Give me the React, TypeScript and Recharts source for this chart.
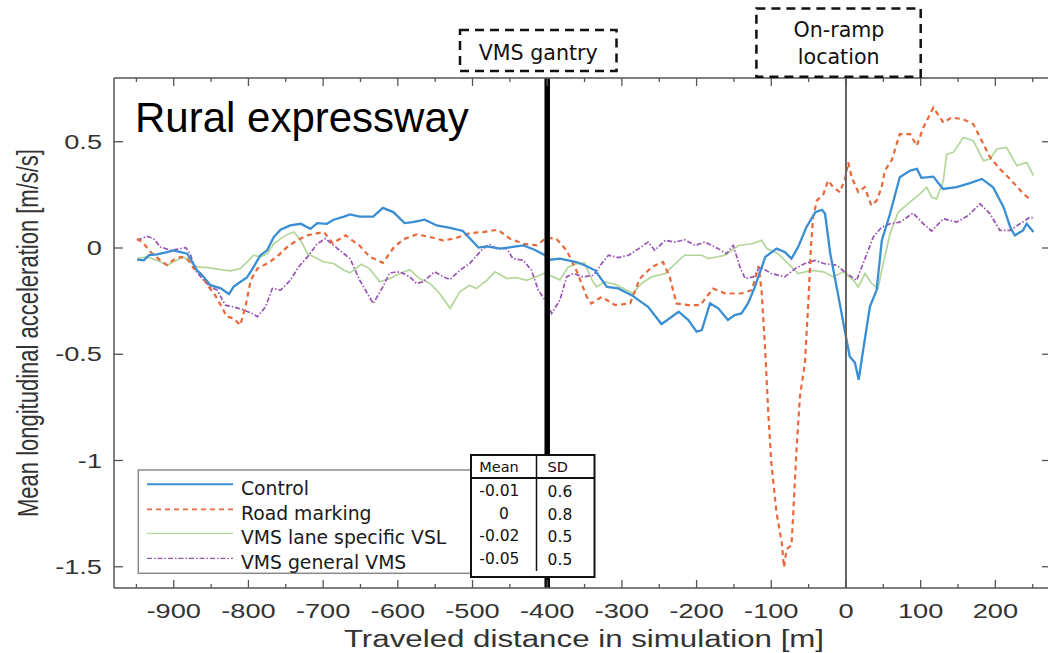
import React from "react";
import { LineChart, Line, XAxis, YAxis, ReferenceLine } from "recharts";

type Pt = [number, number];

// axis ticks (every 50 m, labels on the hundreds)
const xTicks = [-950, -900, -850, -800, -750, -700, -650, -600, -550, -500, -450, -400, -350, -300, -250, -200, -150, -100, -50, 0, 50, 100, 150, 200, 250];
const yTicks = [-1.5, -1, -0.5, 0, 0.5];

// [distance m, mean acceleration m/s/s]
const control: Pt[] = [
  [-949, -0.055], [-940, -0.058], [-933, -0.034], [-922, -0.03], [-909, -0.019], [-900, -0.011], [-891, -0.019], [-882, -0.027],
  [-875, -0.066], [-869, -0.105], [-860, -0.136], [-851, -0.175], [-837, -0.19], [-826, -0.217], [-820, -0.183], [-811, -0.16],
  [-802, -0.139], [-793, -0.089], [-784, -0.034], [-775, -0.011], [-766, 0.052], [-757, 0.086], [-744, 0.106], [-730, 0.114],
  [-717, 0.09], [-708, 0.117], [-695, 0.114], [-686, 0.133], [-672, 0.148], [-664, 0.158], [-651, 0.148], [-633, 0.148],
  [-620, 0.189], [-606, 0.169], [-591, 0.117], [-580, 0.122], [-564, 0.133], [-548, 0.106], [-530, 0.095], [-513, 0.08],
  [-492, 0.002], [-481, 0.008], [-463, -0.003], [-446, 0.005], [-432, 0.012], [-417, -0.008], [-403, -0.034], [-396, -0.055],
  [-383, -0.05], [-361, -0.066], [-350, -0.081], [-336, -0.105], [-320, -0.183], [-305, -0.19], [-287, -0.222], [-265, -0.277],
  [-247, -0.358], [-224, -0.3], [-211, -0.339], [-200, -0.394], [-193, -0.386], [-182, -0.26], [-171, -0.284], [-158, -0.339],
  [-149, -0.316], [-140, -0.308], [-131, -0.26], [-122, -0.183], [-108, -0.042], [-93, -0.003], [-82, -0.019], [-73, -0.05],
  [-64, 0.005], [-53, 0.098], [-41, 0.169], [-32, 0.18], [-28, 0.161], [-21, -0.027], [-10, -0.23], [-1, -0.4], [5, -0.51],
  [12, -0.54], [17, -0.62], [23, -0.48], [32, -0.277], [41, -0.198], [48, 0.036], [59, 0.161], [72, 0.333], [86, 0.364],
  [95, 0.372], [101, 0.33], [117, 0.336], [130, 0.278], [148, 0.286], [166, 0.305], [182, 0.325], [197, 0.286], [211, 0.192],
  [220, 0.098], [226, 0.059], [237, 0.083], [242, 0.114], [251, 0.075],
];

const roadMarking: Pt[] = [
  [-949, 0.044], [-940, 0.02], [-931, -0.019], [-918, -0.058], [-909, -0.081], [-900, -0.055], [-891, -0.042], [-882, -0.05],
  [-873, -0.097], [-864, -0.12], [-855, -0.175], [-846, -0.214], [-837, -0.269], [-829, -0.323], [-820, -0.331], [-811, -0.363],
  [-804, -0.277], [-797, -0.152], [-788, -0.097], [-775, -0.073], [-762, -0.042], [-748, 0.005], [-735, 0.036], [-721, 0.06],
  [-699, 0.075], [-687, 0.022], [-670, 0.06], [-651, 0.01], [-638, -0.04], [-620, -0.07], [-606, 0.0], [-593, 0.04],
  [-575, 0.064], [-557, 0.052], [-539, 0.035], [-521, 0.048], [-504, 0.07], [-486, 0.075], [-466, 0.086], [-450, 0.044],
  [-432, 0.02], [-414, 0.013], [-401, 0.048], [-388, 0.044], [-374, -0.011], [-361, -0.105], [-347, -0.23], [-341, -0.261],
  [-327, -0.23], [-309, -0.269], [-289, -0.261], [-276, -0.144], [-260, -0.089], [-245, -0.066], [-236, -0.136], [-227, -0.261],
  [-211, -0.269], [-195, -0.269], [-178, -0.191], [-162, -0.214], [-140, -0.214], [-126, -0.198], [-117, -0.085], [-113, -0.2],
  [-108.5, -0.46], [-104, -0.777], [-100, -1.01], [-93, -1.245], [-86, -1.386], [-83, -1.503], [-79.5, -1.417], [-73, -1.4],
  [-70.5, -1.245], [-66, -0.933], [-61.6, -0.698], [-55, -0.542], [-50, -0.23], [-47, 0.0], [-44, 0.145], [-39, 0.223],
  [-30, 0.255], [-24, 0.317], [-17, 0.286], [-8, 0.263], [-1.3, 0.325], [3, 0.403], [7.6, 0.333], [16.5, 0.263], [25, 0.286],
  [34, 0.2], [41, 0.223], [47.8, 0.286], [52, 0.364], [61, 0.411], [72, 0.536], [86, 0.536], [94.7, 0.481], [103.6, 0.567],
  [117, 0.661], [130.4, 0.59], [141.5, 0.614], [157, 0.606], [170.5, 0.583], [181.7, 0.505], [192.9, 0.427], [206, 0.372],
  [219.7, 0.325], [237.5, 0.255], [248.7, 0.223],
];

const vmsLaneVsl: Pt[] = [
  [-949, -0.05], [-936, -0.042], [-922, -0.058], [-909, -0.081], [-896, -0.058], [-887, -0.042], [-878, -0.066], [-869, -0.089],
  [-855, -0.092], [-837, -0.102], [-824, -0.108], [-811, -0.097], [-802, -0.066], [-793, -0.034], [-784, -0.042], [-775, -0.027],
  [-766, 0.02], [-757, 0.044], [-748, 0.064], [-739, 0.075], [-730, 0.036], [-721, -0.027], [-712, -0.042], [-699, -0.066],
  [-686, -0.073], [-672, -0.105], [-664, -0.117], [-649, -0.077], [-638, -0.097], [-624, -0.159], [-611, -0.144], [-597, -0.12],
  [-584, -0.102], [-571, -0.144], [-557, -0.167], [-544, -0.214], [-530, -0.284], [-517, -0.206], [-504, -0.175], [-495, -0.191],
  [-481, -0.152], [-470, -0.112], [-454, -0.144], [-441, -0.139], [-428, -0.152], [-417, -0.139], [-403, -0.117], [-396, -0.13],
  [-383, -0.15], [-372, -0.09], [-362, -0.075], [-350, -0.07], [-340, -0.15], [-334, -0.183], [-323, -0.159], [-310, -0.17],
  [-290, -0.205], [-285, -0.214], [-274, -0.167], [-260, -0.136], [-242, -0.12], [-224, -0.058], [-216, -0.034], [-193, -0.034],
  [-184, -0.05], [-162, -0.034], [-144, 0.012], [-126, 0.02], [-113, 0.036], [-106, -0.003], [-91, -0.027], [-73, -0.089],
  [-64, -0.12], [-46, -0.105], [-30, -0.112], [-17, -0.136], [-3.6, -0.112], [9.8, -0.152], [16.5, -0.183], [25.5, -0.12],
  [34.4, -0.167], [43, -0.19], [47.8, -0.105], [59, 0.067], [70, 0.169], [85.7, 0.216], [99, 0.255], [108, 0.286],
  [114.7, 0.239], [121.4, 0.231], [130.4, 0.317], [134.8, 0.442], [143.8, 0.45], [157, 0.52], [170.5, 0.505], [184, 0.411],
  [192.9, 0.419], [201.8, 0.466], [215, 0.473], [228.6, 0.387], [242, 0.403], [251, 0.341],
];

const vmsGeneral: Pt[] = [
  [-949, 0.036], [-936, 0.055], [-927, 0.044], [-918, 0.005], [-904, -0.011], [-891, -0.003], [-884, 0.002], [-878, -0.027],
  [-871, -0.105], [-860, -0.152], [-851, -0.183], [-842, -0.198], [-831, -0.269], [-820, -0.277], [-806, -0.292], [-795, -0.308],
  [-788, -0.323], [-777, -0.277], [-768, -0.19], [-757, -0.198], [-744, -0.152], [-733, -0.089], [-721, -0.042], [-708, 0.02],
  [-697, 0.044], [-686, 0.012], [-672, -0.027], [-664, -0.05], [-651, -0.152], [-633, -0.261], [-620, -0.183], [-611, -0.117],
  [-597, -0.112], [-584, -0.136], [-575, -0.167], [-566, -0.159], [-551, -0.112], [-539, -0.136], [-530, -0.148], [-517, -0.105],
  [-504, -0.073], [-486, -0.003], [-477, 0.017], [-468, -0.003], [-454, -0.003], [-446, -0.05], [-432, -0.058], [-421, -0.105],
  [-412, -0.198], [-403, -0.245], [-394, -0.308], [-383, -0.245], [-374, -0.136], [-365, -0.12], [-352, -0.136], [-338, -0.128],
  [-327, -0.073], [-318, -0.034], [-305, -0.045], [-291, -0.034], [-274, 0.005], [-265, 0.028], [-256, -0.011], [-242, 0.036],
  [-229, 0.028], [-216, 0.039], [-202, 0.012], [-189, 0.028], [-171, -0.003], [-160, -0.027], [-151, 0.012], [-142, -0.089],
  [-135, -0.144], [-124, -0.136], [-115, -0.089], [-100, -0.12], [-82, -0.136], [-68, -0.097], [-55, -0.073], [-41, -0.058],
  [-30, -0.073], [-12.5, -0.081], [0.9, -0.12], [14.3, -0.152], [23, -0.073], [36.6, 0.052], [47.8, 0.098], [59, 0.114],
  [72.3, 0.122], [90, 0.164], [103.6, 0.114], [114.7, 0.08], [130.4, 0.138], [148, 0.122], [163.8, 0.153], [179.5, 0.208],
  [192.9, 0.161], [206, 0.083], [219.7, 0.083], [233, 0.114], [246.4, 0.145], [251, 0.142],
];

const seriesNames = ["Control", "Road marking", "VMS lane specific VSL", "VMS general VMS"];
const seriesMean = ["-0.01", "0", "-0.02", "-0.05"];
const seriesSD = ["0.6", "0.8", "0.5", "0.5"];

const BLUE = "#3a8ed3";
const ORANGE = "#e8683a";
const GREEN = "#b3d69a";
const PURPLE = "#9a52b5";
const AXIS = "#555";
const ARIAL = "'Liberation Sans', Arial, sans-serif";
const DEJAVU = "'DejaVu Sans', Verdana, sans-serif";

const styles = [
  { color: BLUE, width: 2.3, dash: undefined as string | undefined },
  { color: ORANGE, width: 2.2, dash: "5 4" },
  { color: GREEN, width: 1.7, dash: undefined },
  { color: PURPLE, width: 1.7, dash: "5 2 1.5 2" },
];

const toRows = (pts: Pt[]) => pts.map(([x, y]) => ({ x, y }));

function BottomTick(props: any) {
  const { x, y, payload } = props;
  const v = payload.value;
  const major = v % 100 === 0;
  return (
    <g>
      <line x1={x} x2={x} y1={y} y2={y - (major ? 8 : 4)} stroke={AXIS} strokeWidth={1.3} />
      {major && (
        <text transform={`translate(${x},${y + 30}) scale(1.36,1)`} textAnchor="middle" fontSize={20} fill="#333" fontFamily={ARIAL}>
          {v}
        </text>
      )}
    </g>
  );
}

function TopTick(props: any) {
  const { x, payload } = props;
  const major = payload.value % 100 === 0;
  return <line x1={x} x2={x} y1={78} y2={78 + (major ? 8 : 4)} stroke={AXIS} strokeWidth={1.3} />;
}

function LeftTick(props: any) {
  const { x, y, payload } = props;
  return (
    <g>
      <line x1={x} x2={x + 9} y1={y} y2={y} stroke={AXIS} strokeWidth={1.3} />
      <text transform={`translate(${x - 12},${y + 7}) scale(1.36,1)`} textAnchor="end" fontSize={20} fill="#333" fontFamily={ARIAL}>
        {payload.value}
      </text>
    </g>
  );
}

function RightTick(props: any) {
  const { y } = props;
  return <line x1={1051} x2={1042} y1={y} y2={y} stroke={AXIS} strokeWidth={1.3} />;
}

function DashedBox({ x, y, w, h }: { x: number; y: number; w: number; h: number }) {
  return <rect x={x} y={y} width={w} height={h} fill="white" stroke="#111" strokeWidth={2.5} strokeDasharray="9 6" />;
}

export default function App() {
  const data = [control, roadMarking, vmsLaneVsl, vmsGeneral];
  const drawOrder = [2, 3, 1, 0];
  const legendY = [484.3, 509.3, 533.3, 558.3];
  const rowBase = [496, 519, 541, 563.5];

  return (
    <div style={{ position: "absolute", left: 0, top: 0, width: 1048, height: 653, overflow: "hidden", background: "white" }}>
      <LineChart width={1052} height={653} margin={{ top: 68, right: 0, bottom: 5, left: 54 }}>
        <XAxis
          xAxisId={0}
          dataKey="x"
          type="number"
          domain={[-980, 274.5]}
          allowDataOverflow
          ticks={xTicks}
          interval={0}
          height={60}
          tickSize={0}
          tickMargin={0}
          tickLine={false}
          axisLine={{ stroke: AXIS, strokeWidth: 1.5 }}
          tick={(p: any) => <BottomTick {...p} />}
        />
        <XAxis
          xAxisId="top"
          orientation="top"
          dataKey="x"
          type="number"
          domain={[-980, 274.5]}
          allowDataOverflow
          ticks={xTicks}
          interval={0}
          height={10}
          tickSize={0}
          tickMargin={0}
          tickLine={false}
          axisLine={{ stroke: AXIS, strokeWidth: 1.5 }}
          tick={(p: any) => <TopTick {...p} />}
        />
        <YAxis
          yAxisId={0}
          type="number"
          domain={[-1.6, 0.8]}
          allowDataOverflow
          ticks={yTicks}
          interval={0}
          width={60}
          tickSize={0}
          tickMargin={0}
          tickLine={false}
          axisLine={{ stroke: AXIS, strokeWidth: 1.5 }}
          tick={(p: any) => <LeftTick {...p} />}
        />
        <YAxis
          yAxisId="r"
          orientation="right"
          type="number"
          domain={[-1.6, 0.8]}
          allowDataOverflow
          ticks={yTicks}
          interval={0}
          width={1}
          tickSize={0}
          tickMargin={0}
          tickLine={false}
          axisLine={false}
          tick={(p: any) => <RightTick {...p} />}
        />
        {drawOrder.map((i) => (
          <Line
            key={seriesNames[i]}
            data={toRows(data[i])}
            dataKey="y"
            name={seriesNames[i]}
            type="linear"
            stroke={styles[i].color}
            strokeWidth={styles[i].width}
            strokeDasharray={styles[i].dash}
            dot={false}
            activeDot={false}
            isAnimationActive={false}
          />
        ))}
        <ReferenceLine x={-400} stroke="#000" strokeWidth={5.5} />
        <ReferenceLine x={0} stroke="#666" strokeWidth={2} />
      </LineChart>

      <svg width={1048} height={653} style={{ position: "absolute", left: 0, top: 0, pointerEvents: "none" }}>
        <text x={135} y={131.7} fontSize={42} fill="#000" fontFamily={ARIAL}>Rural expressway</text>

        <text transform="translate(38,333) scale(1.36,1) rotate(-90)" textAnchor="middle" fontSize={22} fill="#333" fontFamily={ARIAL}>
          Mean longitudinal acceleration [m/s/s]
        </text>
        <text transform="translate(584,646.5) scale(1.36,1)" textAnchor="middle" fontSize={23} fill="#333" fontFamily={ARIAL}>
          Traveled distance in simulation [m]
        </text>

        <DashedBox x={460} y={30} w={156.5} h={41} />
        <text x={538.2} y={60} textAnchor="middle" fontSize={20.6} fill="#111" fontFamily={DEJAVU}>VMS gantry</text>
        <DashedBox x={756.4} y={8.4} w={164.3} h={68.4} />
        <text x={839} y={36.8} textAnchor="middle" fontSize={20.6} fill="#111" fontFamily={DEJAVU}>On-ramp</text>
        <text x={838.7} y={64} textAnchor="middle" fontSize={20.6} fill="#111" fontFamily={DEJAVU}>location</text>

        {/* legend */}
        <rect x={138.3} y={470} width={340} height={103.3} fill="white" stroke="#8a8a8a" strokeWidth={1.5} />
        {seriesNames.map((name, i) => (
          <g key={name}>
            <line x1={147} x2={233} y1={legendY[i]} y2={legendY[i]} stroke={styles[i].color} strokeWidth={styles[i].width - 0.4} strokeDasharray={styles[i].dash} />
            <text x={241} y={legendY[i] + 10.2} fontSize={18.8} fill="#1a1a1a" fontFamily={DEJAVU}>{name}</text>
          </g>
        ))}

        {/* mean / sd table */}
        <rect x={471} y={455} width={123.5} height={122} fill="white" stroke="#111" strokeWidth={2} />
        <line x1={471} x2={594.5} y1={478} y2={478} stroke="#111" strokeWidth={2} />
        <line x1={536.5} x2={536.5} y1={455} y2={571} stroke="#111" strokeWidth={1.5} />
        <text x={479.3} y={471.7} fontSize={14.5} fill="#111" fontFamily={DEJAVU}>Mean</text>
        <text x={547.6} y={471.7} fontSize={14.5} fill="#111" fontFamily={DEJAVU}>SD</text>
        {seriesMean.map((m, i) => (
          <text key={"m" + i} x={m === "0" ? 504 : 479.3} y={rowBase[i]} textAnchor={m === "0" ? "middle" : "start"} fontSize={15.5} fill="#111" fontFamily={DEJAVU}>
            {m}
          </text>
        ))}
        {seriesSD.map((s, i) => (
          <text key={"s" + i} x={547.6} y={rowBase[i] + 1} fontSize={15.5} fill="#111" fontFamily={DEJAVU}>
            {s}
          </text>
        ))}
      </svg>
    </div>
  );
}
